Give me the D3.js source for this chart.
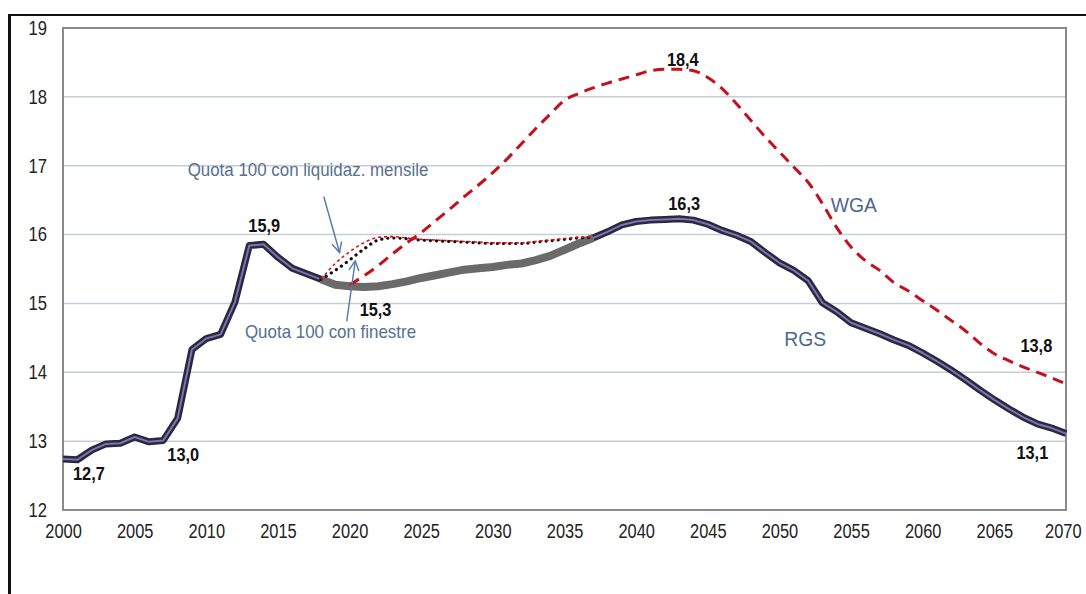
<!DOCTYPE html>
<meta charset="utf-8">
<style>
body { margin: 0; background: #fff; }
svg { display: block; }
.tick text { font-family: "Liberation Sans", Arial, sans-serif; font-size: 20px; fill: #222; }
.lbl { font-family: "Liberation Sans", Arial, sans-serif; font-size: 19px; font-weight: bold; fill: #111; }
.note { font-family: "Liberation Sans", Arial, sans-serif; font-size: 19px; fill: #56708f; }
.name { font-family: "Liberation Sans", Arial, sans-serif; font-size: 21px; fill: #4e6690; }
</style>
<div class="chart"></div>
<script src="https://cdnjs.cloudflare.com/ajax/libs/d3/7.8.5/d3.min.js"></script>
<script>

// data
var years = d3.range(2000, 2071);
var yTicks = [12, 13, 14, 15, 16, 17, 18, 19];
var xTicks = [2000, 2005, 2010, 2015, 2020, 2025, 2030, 2035, 2040, 2045, 2050, 2055, 2060, 2065, 2070];

var rgs = [12.74, 12.73, 12.87, 12.96, 12.97, 13.06, 12.99, 13.01, 13.33, 14.33,
           14.49, 14.55, 15.02, 15.84, 15.86, 15.67, 15.51, 15.43, 15.35, 15.27,
           15.25, 15.24, 15.25, 15.28, 15.32, 15.37, 15.41, 15.45, 15.49, 15.51,
           15.53, 15.56, 15.58, 15.63, 15.69, 15.78, 15.87, 15.95, 16.04, 16.14,
           16.19, 16.21, 16.22, 16.23, 16.21, 16.15, 16.06, 15.99, 15.90, 15.74,
           15.59, 15.48, 15.33, 15.01, 14.88, 14.72, 14.64, 14.56, 14.47, 14.39,
           14.28, 14.16, 14.03, 13.89, 13.74, 13.60, 13.47, 13.35, 13.25, 13.19,
           13.11];

var wgaYears = d3.range(2020, 2071);
var wga = [15.27, 15.40, 15.55, 15.72, 15.88, 16.03, 16.20, 16.37, 16.55, 16.72,
           16.90, 17.10, 17.32, 17.54, 17.75, 17.95, 18.05, 18.13, 18.20, 18.26,
           18.32, 18.38, 18.40, 18.40, 18.38, 18.28, 18.12, 17.90, 17.66, 17.42,
           17.20, 16.98, 16.76, 16.45, 16.10, 15.82, 15.62, 15.48, 15.30, 15.18,
           15.04, 14.90, 14.75, 14.60, 14.42, 14.27, 14.17, 14.08, 14.00, 13.92,
           13.83];

var q100Years = d3.range(2018, 2038);
var q100Mensile = [15.35, 15.58, 15.75, 15.88, 15.96, 15.97, 15.95, 15.93, 15.92, 15.91,
                   15.90, 15.89, 15.88, 15.88, 15.88, 15.90, 15.92, 15.94, 15.96, 15.97];
var q100Finestre = [15.35, 15.48, 15.63, 15.79, 15.92, 15.95, 15.94, 15.92, 15.91, 15.90,
                    15.89, 15.88, 15.87, 15.87, 15.87, 15.89, 15.91, 15.93, 15.95, 15.96];

var greyFrom = 2018, greyTo = 2037;

var peakLabels = [
  {year: 2000, value: 12.7, text: "12,7", dx: 10, dy: 18, anchor: "start"},
  {year: 2007, value: 13.0, text: "13,0", dx: 4, dy: 20, anchor: "start"},
  {year: 2013, value: 15.9, text: "15,9", dx: 15, dy: -9, anchor: "middle"},
  {year: 2020, value: 15.3, text: "15,3", dx: 26, dy: 33, anchor: "middle"},
  {year: 2042, value: 18.4, text: "18,4", dx: 18, dy: -3, anchor: "middle"},
  {year: 2043, value: 16.3, text: "16,3", dx: 5, dy: -4, anchor: "middle"},
  {year: 2068, value: 13.8, text: "13,8", dx: -1, dy: -34, anchor: "middle"},
  {year: 2068, value: 13.1, text: "13,1", dx: -5, dy: 25, anchor: "middle"}
];

var notes = [
  {text: "Quota 100 con  liquidaz. mensile", year: 2008.7, value: 16.85,
   from: [2018.2, 16.55], to: [2019.3, 15.74]},
  {text: "Quota 100 con finestre", year: 2012.7, value: 14.5,
   from: [2019.8, 14.74], to: [2020.4, 15.62]}
];

var width = 1086, height = 594;
var margin = {top: 28, right: 20, bottom: 84, left: 63};

// squeeze a text to look like the narrow face in the picture
function narrow(sel, k) {
  sel.each(function() {
    var len = this.getComputedTextLength();
    d3.select(this).attr("textLength", len * k).attr("lengthAdjust", "spacingAndGlyphs");
  });
}

var svg = d3.select(".chart").append("svg")
    .attr("width", width)
    .attr("height", height);

// outer frame
svg.append("line").attr("x1", 9).attr("x2", width).attr("y1", 15).attr("y2", 15)
    .attr("stroke", "#111").attr("stroke-width", 2);
svg.append("line").attr("x1", 9.5).attr("x2", 9.5).attr("y1", 14).attr("y2", height)
    .attr("stroke", "#111").attr("stroke-width", 3);

var x = d3.scaleLinear().domain([2000, 2070]).range([margin.left, width - margin.right]);
var y = d3.scaleLinear().domain([12, 19]).range([height - margin.bottom, margin.top]);

// grid
svg.append("g").selectAll("line")
    .data(yTicks.slice(1, -1))
    .enter().append("line")
    .attr("x1", x(2000)).attr("x2", x(2070))
    .attr("y1", function(d) { return y(d); })
    .attr("y2", function(d) { return y(d); })
    .attr("stroke", "#c6cdda")
    .attr("stroke-width", 1.5);

svg.append("rect")
    .attr("x", x(2000)).attr("y", y(19))
    .attr("width", x(2070) - x(2000)).attr("height", y(12) - y(19))
    .attr("fill", "none").attr("stroke", "#8a8a8a").attr("stroke-width", 2);

svg.append("g")
    .attr("transform", "translate(0," + y(12) + ")")
    .call(d3.axisBottom(x).tickValues(xTicks).tickSize(0).tickPadding(14).tickFormat(d3.format("d")))
    .call(function(g) { g.select(".domain").remove(); })
    .call(function(g) { narrow(g.selectAll("text"), 0.82); })
    .call(function(g) {
      // last label sits against the page edge
      g.selectAll(".tick").filter(function(d) { return d === 2070; })
        .select("text").attr("text-anchor", "end").attr("x", 15);
    });

svg.append("g")
    .attr("transform", "translate(" + x(2000) + ",0)")
    .call(d3.axisLeft(y).tickValues(yTicks).tickSize(0).tickPadding(16).tickFormat(d3.format("d")))
    .call(function(g) { g.select(".domain").remove(); })
    .call(function(g) { narrow(g.selectAll("text"), 0.83); });

var line = d3.line()
    .x(function(d) { return x(d[0]); })
    .y(function(d) { return y(d[1]); });

var rgsPts = years.map(function(d, i) { return [d, rgs[i]]; });
var navyA = rgsPts.filter(function(d) { return d[0] <= greyFrom; });
var navyB = rgsPts.filter(function(d) { return d[0] >= greyTo; });
var greyPart = rgsPts.filter(function(d) { return d[0] >= greyFrom && d[0] <= greyTo; });

// RGS: grey stretch, navy double line elsewhere
svg.append("path").datum(greyPart).attr("d", line)
    .attr("fill", "none").attr("stroke", "#6a6a6a").attr("stroke-width", 8)
    .attr("stroke-linejoin", "round");

[navyA, navyB].forEach(function(seg) {
  svg.append("path").datum(seg).attr("d", line)
      .attr("fill", "none").attr("stroke", "#2b2740").attr("stroke-width", 7)
      .attr("stroke-linejoin", "round");
  svg.append("path").datum(seg).attr("d", line)
      .attr("fill", "none").attr("stroke", "#7a76ae").attr("stroke-width", 2)
      .attr("stroke-linejoin", "round");
});

// Quota 100 lines
svg.append("path").datum(q100Years.map(function(d, i) { return [d, q100Finestre[i]]; }))
    .attr("d", line.curve(d3.curveMonotoneX))
    .attr("fill", "none").attr("stroke", "#111").attr("stroke-width", 3.2)
    .attr("stroke-dasharray", "0.1,6").attr("stroke-linecap", "round");

svg.append("path").datum(q100Years.map(function(d, i) { return [d, q100Mensile[i]]; }))
    .attr("d", line.curve(d3.curveMonotoneX))
    .attr("fill", "none").attr("stroke", "#e01010").attr("stroke-width", 1.6)
    .attr("stroke-dasharray", "3,3");

// WGA
svg.append("path").datum(wgaYears.map(function(d, i) { return [d, wga[i]]; }))
    .attr("d", line.curve(d3.curveMonotoneX))
    .attr("fill", "none").attr("stroke", "#c4101c").attr("stroke-width", 3)
    .attr("stroke-dasharray", "11,7");

// value labels
svg.append("g").selectAll("text")
    .data(peakLabels)
    .enter().append("text")
    .attr("class", "lbl")
    .attr("x", function(d) { return x(d.year) + d.dx; })
    .attr("y", function(d) { return y(d.value) + d.dy; })
    .attr("text-anchor", function(d) { return d.anchor; })
    .text(function(d) { return d.text; })
    .call(narrow, 0.86);

// series names
svg.append("text").attr("class", "name").attr("x", x(2055.2)).attr("y", y(16.33))
    .attr("text-anchor", "middle").text("WGA").call(narrow, 0.92);
svg.append("text").attr("class", "name").attr("x", x(2051.8)).attr("y", y(14.38))
    .attr("text-anchor", "middle").text("RGS").call(narrow, 0.92);

// annotations with arrows
var defs = svg.append("defs");
defs.append("marker")
    .attr("id", "arr")
    .attr("viewBox", "0 0 12 12")
    .attr("refX", 11).attr("refY", 6)
    .attr("markerWidth", 12).attr("markerHeight", 12)
    .attr("markerUnits", "userSpaceOnUse")
    .attr("orient", "auto")
    .append("path")
    .attr("d", "M1,1 L11,6 L1,11")
    .attr("fill", "none").attr("stroke", "#4f7aaa").attr("stroke-width", 1.4);

var ng = svg.append("g");
ng.selectAll("text")
    .data(notes)
    .enter().append("text")
    .attr("class", "note")
    .attr("x", function(d) { return x(d.year); })
    .attr("y", function(d) { return y(d.value); })
    .text(function(d) { return d.text; })
    .call(narrow, 0.89);

ng.selectAll("line")
    .data(notes)
    .enter().append("line")
    .attr("x1", function(d) { return x(d.from[0]); })
    .attr("y1", function(d) { return y(d.from[1]); })
    .attr("x2", function(d) { return x(d.to[0]); })
    .attr("y2", function(d) { return y(d.to[1]); })
    .attr("stroke", "#4f7aaa").attr("stroke-width", 1.4)
    .attr("marker-end", "url(#arr)");

</script>
